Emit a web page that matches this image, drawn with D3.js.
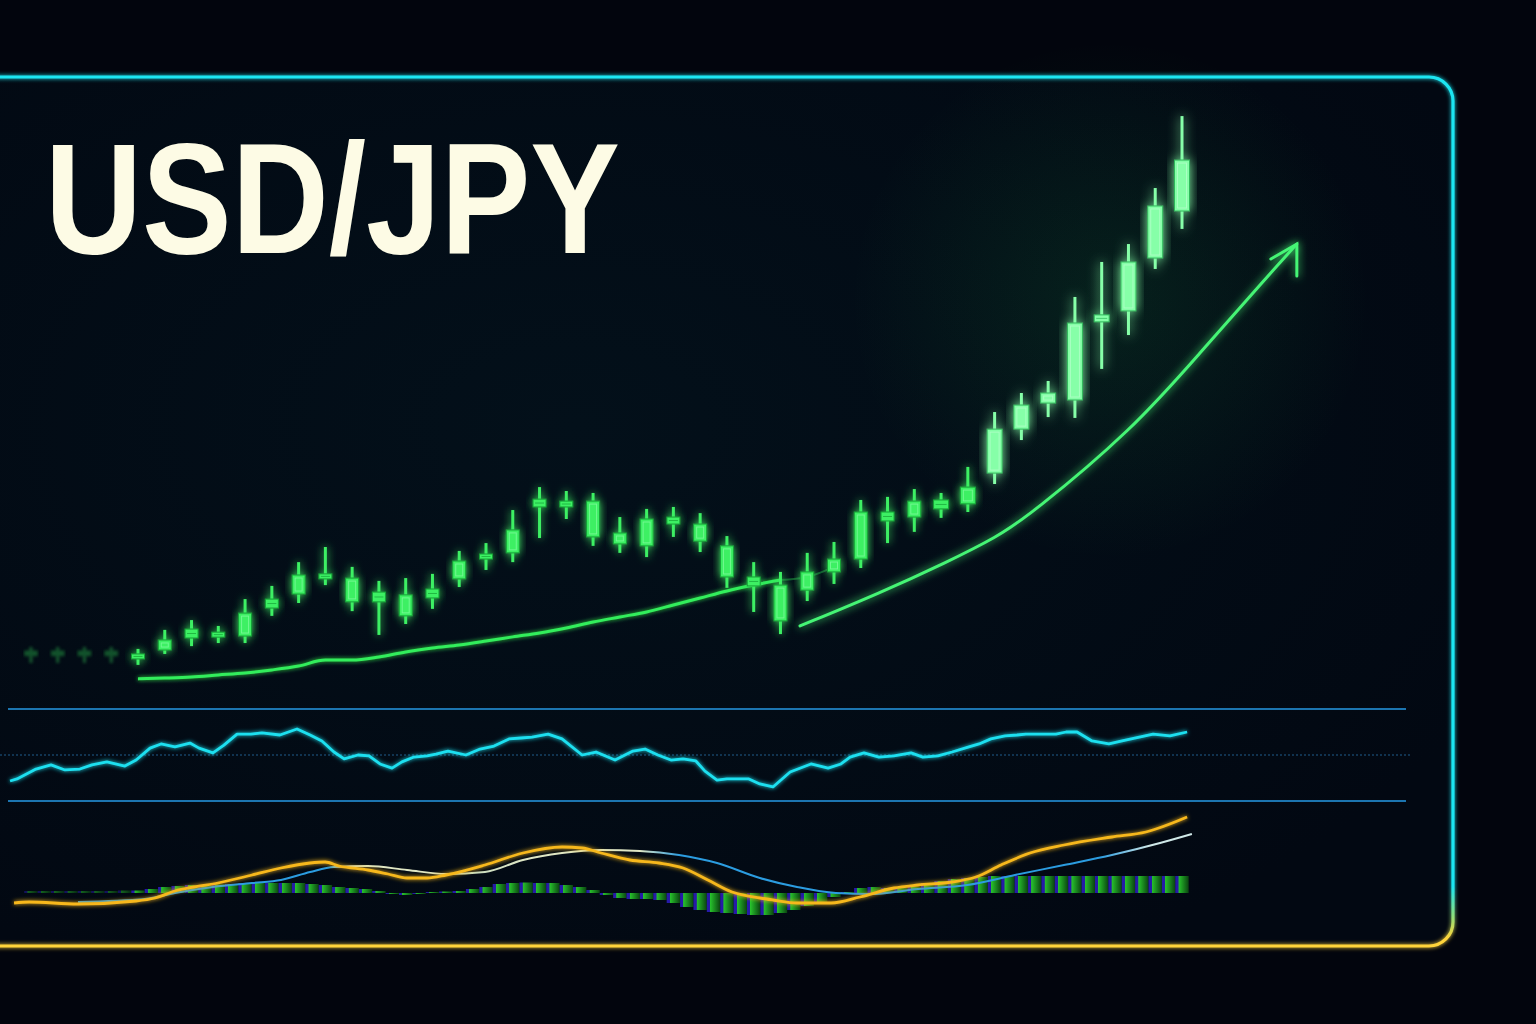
<!DOCTYPE html>
<html><head><meta charset="utf-8">
<script src="https://cdn.jsdelivr.net/npm/d3@7"></script>
<style>html,body{margin:0;padding:0;background:#02050d;overflow:hidden}</style>
</head><body>
<svg id="c" width="1536" height="1024"></svg>
<script>
// ---------------- DATA ----------------
const title = "USD/JPY";
// price candles (index 0..39)
const opens  = [140.79,141.07,141.50,141.54,141.57,142.57,143.07,143.61,143.64,143.14,142.29,142.93,143.61,144.32,144.54,146.18,146.18,146.39,145.25,144.79,145.57,145.57,144.79,143.68,143.39,143.21,143.86,144.32,145.68,145.82,146.11,146.29,147.39,148.96,149.89,150.00,152.79,153.18,155.07,156.75];
const closes = [140.93,141.43,141.82,141.71,142.39,142.89,143.75,143.79,142.79,142.79,143.04,143.25,144.25,144.50,145.36,146.46,146.39,145.11,144.86,145.75,145.82,144.96,143.68,143.36,142.11,143.86,144.32,146.00,146.00,146.39,146.43,146.89,148.96,149.82,150.25,152.75,153.04,154.93,156.93,158.57];
const highs  = [141.11,141.79,142.14,141.93,142.89,143.36,144.21,144.75,144.04,143.54,143.64,143.79,144.61,144.89,146.07,146.89,146.75,146.68,145.82,146.11,146.18,145.96,145.14,144.21,143.86,144.54,144.93,146.43,146.54,146.82,146.68,147.61,149.57,150.25,150.68,153.68,154.93,155.57,157.57,160.14];
const lows   = [140.54,140.93,141.21,141.32,141.32,142.29,142.75,143.39,142.46,141.61,142.00,142.54,143.32,143.93,144.21,145.07,145.75,144.79,144.54,144.39,145.11,144.57,143.29,142.43,141.64,142.82,143.43,144.00,144.89,145.29,145.79,146.00,147.00,148.57,149.39,149.36,151.11,152.32,154.68,156.11];
// faded earlier candles
const ghostIndex = [-4,-3,-2,-1];
const ghostOpen  = [140.89,140.89,140.89,140.89];
const ghostClose = [141.04,141.04,141.04,141.04];
const ghostHigh  = [141.18,141.18,141.18,141.18];
const ghostLow   = [140.61,140.61,140.61,140.61];
// moving average (index 0..24) + faint extension
const maValues = [140.04,140.07,140.11,140.18,140.25,140.36,140.50,140.71,140.71,140.82,141.00,141.14,141.25,141.39,141.54,141.68,141.86,142.07,142.25,142.43,142.68,142.93,143.18,143.39,143.57];
const maExtIndex = [24,25,26];
const maExtValues = [143.57,143.68,144.04];
// trend arrow (index, price)
const trendT = [24.73,27.72,30.22,32.09,33.32,37.17,39.67,42.17,43.29];
const trendV = [141.93,143.11,144.21,145.11,145.89,148.96,151.68,154.39,155.57];
// RSI
const rsiLevels = [70,50,30];
const rsiT = [-4.78,-4.52,-3.81,-3.25,-2.73,-2.17,-1.72,-1.16,-0.49,-0.07,0.45,0.86,1.38,1.94,2.28,2.80,3.21,3.70,4.22,4.63,5.30,5.94,6.43,6.87,7.32,7.70,8.22,8.63,9.04,9.49,9.86,10.31,10.80,11.13,11.58,12.25,12.78,13.30,13.86,14.31,14.72,15.32,15.84,16.59,17.11,17.82,18.49,18.94,19.42,19.91,20.36,20.84,21.18,21.63,22.00,22.82,23.23,23.72,24.36,25.14,25.78,26.26,26.60,27.12,27.68,28.24,28.88,29.32,29.88,30.41,31.04,31.42,31.86,32.39,32.84,33.17,34.29,34.67,35.08,35.64,36.27,36.76,37.92,38.55,39.19];
const rsiV = [38.7,39.6,43.9,45.7,43.5,43.9,45.7,47.0,45.2,47.8,53.0,54.8,53.5,55.2,53.0,50.9,54.3,59.1,59.1,59.6,58.7,61.3,58.7,56.1,51.3,48.3,50.0,49.6,46.1,44.3,47.0,49.1,49.6,50.4,51.7,50.0,52.6,53.9,57.0,57.4,57.8,59.1,57.0,50.0,51.3,47.8,51.7,52.6,50.0,47.8,48.3,47.4,43.0,39.1,39.6,39.6,37.4,36.1,42.6,46.1,44.3,46.1,49.1,50.9,49.1,49.6,50.9,49.1,49.6,51.3,53.5,54.8,57.0,58.3,58.7,59.1,59.1,60.0,60.0,56.1,54.8,56.1,59.1,58.3,60.0];
// MACD
const macdT = [-4.63,-4.07,-2.24,-0.07,0.64,1.38,2.09,2.99,4.26,5.34,6.43,6.99,7.51,8.59,9.34,10.05,10.80,11.51,12.96,14.38,15.84,16.59,17.30,18.38,19.46,20.36,21.29,22.19,23.23,23.72,24.62,25.89,26.97,28.24,29.14,30.41,31.30,32.24,33.32,34.59,36.38,37.65,39.19];
const macdV = [-0.20,-0.18,-0.22,-0.16,-0.10,0.04,0.12,0.20,0.36,0.50,0.60,0.62,0.54,0.46,0.38,0.30,0.30,0.36,0.56,0.80,0.92,0.90,0.80,0.66,0.60,0.50,0.26,0.02,-0.10,-0.14,-0.20,-0.20,-0.08,0.10,0.16,0.22,0.32,0.56,0.80,0.96,1.12,1.22,1.52];
const sigT = [-2.24,0.26,1.38,2.80,4.26,5.34,6.43,7.32,8.59,10.05,11.51,12.96,14.38,15.84,17.30,18.75,20.21,21.63,23.23,24.62,26.07,27.34,29.14,30.97,32.76,34.59,36.38,38.18,39.37];
const sigV = [-0.18,-0.12,0.00,0.12,0.20,0.26,0.42,0.52,0.54,0.46,0.38,0.42,0.66,0.80,0.86,0.84,0.76,0.60,0.30,0.12,0.00,-0.02,0.08,0.16,0.36,0.56,0.76,1.00,1.18];
const histT = d3.range(-4, 39.5, 0.5);
const histV = [0.04,0.04,0.04,0.04,0.04,0.04,0.04,0.05,
  0.05,0.08,0.12,0.14,0.16,0.16,0.17,0.18,0.2,0.2,
  0.2,0.2,0.2,0.18,0.16,0.12,0.1,0.08,0.04,-0.02,
  -0.04,-0.02,0.02,0.03,0.04,0.08,0.12,0.18,0.2,0.21,
  0.2,0.2,0.16,0.12,0.06,-0.04,-0.1,-0.12,-0.12,-0.14,
  -0.2,-0.28,-0.34,-0.38,-0.4,-0.42,-0.44,-0.44,-0.4,-0.34,
  -0.26,-0.18,-0.08,0.02,0.1,0.12,0.1,0.1,0.12,0.2,
  0.24,0.28,0.3,0.32,0.34,0.34,0.34,0.34,0.34,0.34,
  0.34,0.34,0.34,0.34,0.34,0.34,0.34,0.34,0.34];

// ---------------- SCALES ----------------
const svg = d3.select("#c");
const x = d3.scaleLinear().domain([0,39]).range([138,1182]);
const y = d3.scaleLinear().domain([140,160]).range([680,120]);
const rsiY = d3.scaleLinear().domain([30,70]).range([801,709]);
const macdY = d3.scaleLinear().domain([0,1]).range([893,843]);

// ---------------- DEFS ----------------
const defs = svg.append("defs");
function glow(id, sd){
  const f = defs.append("filter").attr("id",id).attr("x","-50%").attr("y","-50%").attr("width","200%").attr("height","200%");
  f.append("feGaussianBlur").attr("in","SourceGraphic").attr("stdDeviation",sd).attr("result","b");
  const m = f.append("feMerge"); m.append("feMergeNode").attr("in","b"); m.append("feMergeNode").attr("in","SourceGraphic");
}
glow("glow",4); glow("glowS",2); glow("glowL",6);
defs.append("filter").attr("id","blur").append("feGaussianBlur").attr("stdDeviation",1.6);
const fg = defs.append("linearGradient").attr("id","frameG").attr("gradientUnits","userSpaceOnUse")
  .attr("x1",0).attr("y1",77).attr("x2",0).attr("y2",947);
[[0,"#1de6f2"],[0.93,"#1de6f2"],[0.965,"#8fe07a"],[0.99,"#ffd43a"],[1,"#ffd43a"]].forEach(s=>fg.append("stop").attr("offset",s[0]).attr("stop-color",s[1]));
const hg = defs.append("linearGradient").attr("id","histG").attr("x1",0).attr("x2",1).attr("y1",0).attr("y2",0);
[[0,"#2a1cb8"],[0.22,"#2a1cb8"],[0.26,"#2bd62e"],[1,"#0b4a10"]].forEach(s=>hg.append("stop").attr("offset",s[0]).attr("stop-color",s[1]));
const sg = defs.append("linearGradient").attr("id","sigG").attr("gradientUnits","userSpaceOnUse").attr("x1",0).attr("x2",1536).attr("y1",0).attr("y2",0);
[[0,"#2b9ce0"],[330/1536,"#2b9ce0"],[345/1536,"#dfe6c4"],[440/1536,"#dfe6c4"],[470/1536,"#c8dcc0"],[530/1536,"#dfe6c4"],[640/1536,"#dfe6c4"],[680/1536,"#2b9ce0"],[1100/1536,"#2b9ce0"],[1150/1536,"#cfe8e8"],[1,"#cfe8e8"]].forEach(s=>sg.append("stop").attr("offset",s[0]).attr("stop-color",s[1]));
const rg = defs.append("radialGradient").attr("id","haze");
[[0,"rgba(40,220,90,0.10)"],[1,"rgba(40,220,90,0)"]].forEach(s=>rg.append("stop").attr("offset",s[0]).attr("stop-color",s[1]));
const bgG = defs.append("radialGradient").attr("id","bgG").attr("cx","40%").attr("cy","40%").attr("r","70%");
[[0,"#03101a"],[1,"#020812"]].forEach(s=>bgG.append("stop").attr("offset",s[0]).attr("stop-color",s[1]));

// ---------------- BACKGROUND + FRAME ----------------
svg.append("rect").attr("width",1536).attr("height",1024).attr("fill","#02050d");
const framePath = "M -10 77 H 1429 A 24 24 0 0 1 1453 101 V 922 A 24 24 0 0 1 1429 946 H -10";
svg.append("path").attr("d", framePath + " Z").attr("fill","url(#bgG)");
svg.append("ellipse").attr("cx",1110).attr("cy",300).attr("rx",260).attr("ry",260).attr("fill","url(#haze)");
svg.append("path").attr("d",framePath).attr("fill","none").attr("stroke","url(#frameG)").attr("stroke-width",3.2).attr("filter","url(#glowS)");

// ---------------- TITLE ----------------
svg.append("text").text(title).attr("x",45).attr("y",253)
  .attr("font-family","'Liberation Sans', Arial, sans-serif").attr("font-weight",700).attr("font-size",158)
  .attr("textLength",575).attr("lengthAdjust","spacingAndGlyphs")
  .attr("fill","#fdfbe5");

// ---------------- MOVING AVERAGE ----------------
const maLine = d3.line().x((d,i)=>x(i)).y(d=>y(d)).curve(d3.curveMonotoneX);
svg.append("path").attr("d",maLine(maValues)).attr("fill","none").attr("stroke","#000").attr("stroke-width",6).attr("opacity",0.6);
svg.append("path").attr("d",maLine(maValues)).attr("fill","none").attr("stroke","#33ee5c").attr("stroke-width",3).attr("filter","url(#glowS)");
svg.append("path").attr("d",d3.line().x((d,i)=>x(maExtIndex[i])).y(d=>y(d)).curve(d3.curveMonotoneX)(maExtValues))
  .attr("fill","none").attr("stroke","#33ee5c").attr("stroke-width",2).attr("opacity",0.35);

// ---------------- CANDLES ----------------
function drawCandles(g, idx, o, c, h, l, ghost){
  idx.forEach((t,k)=>{
    const cx = x(t);
    const bright = t >= 32;
    const col = bright ? "#86ffa8" : "#3cf064";
    const edge = bright ? "#2fb85a" : "#15a035";
    const w = t >= 30 ? 15 : 13;
    const top = y(Math.max(o[k],c[k])), bot = y(Math.min(o[k],c[k]));
    const bh = Math.max(bot-top, 5);
    const cg = g.append("g").attr("filter", ghost ? "url(#blur)" : (bright ? "url(#glowL)" : "url(#glow)"));
    cg.append("line").attr("x1",cx).attr("x2",cx).attr("y1",y(h[k])).attr("y2",y(l[k])).attr("stroke",col).attr("stroke-width",3);
    cg.append("rect").attr("x",cx-w/2).attr("y",top).attr("width",w).attr("height",bh).attr("fill",col).attr("stroke",edge).attr("stroke-width",1);
    if (bh > 10) cg.append("rect").attr("x",cx-w/2+3).attr("y",top+3).attr("width",w-6).attr("height",bh-6)
      .attr("fill","none").attr("stroke",bright?"#c8ffd8":"#9effb4").attr("stroke-width",1).attr("opacity",0.55);
    else cg.append("line").attr("x1",cx-w/2+2).attr("x2",cx+w/2-2).attr("y1",top+bh/2).attr("y2",top+bh/2).attr("stroke",edge).attr("stroke-width",1).attr("opacity",0.7);
  });
}
const ghostG = svg.append("g").attr("opacity",0.35);
drawCandles(ghostG, ghostIndex, ghostOpen, ghostClose, ghostHigh, ghostLow, true);
drawCandles(svg.append("g"), d3.range(opens.length), opens, closes, highs, lows, false);

// ---------------- TREND ARROW ----------------
const trendLine = d3.line().x((d,i)=>x(trendT[i])).y(d=>y(d)).curve(d3.curveBasis);
const tg = svg.append("g").attr("filter","url(#glow)");
tg.append("path").attr("d",trendLine(trendV)).attr("fill","none").attr("stroke","#45f574").attr("stroke-width",3).attr("stroke-linecap","round");
const tipX = x(trendT[trendT.length-1]), tipY = y(trendV[trendV.length-1]);
tg.append("path").attr("d",`M${tipX-26},${tipY+15} L${tipX},${tipY} L${tipX},${tipY+32}`)
  .attr("fill","none").attr("stroke","#45f574").attr("stroke-width",3).attr("stroke-linecap","round").attr("stroke-linejoin","miter");

// ---------------- RSI PANEL ----------------
rsiLevels.forEach(v=>{
  const mid = v===50;
  svg.append("line").attr("x1",mid?0:8).attr("x2",mid?1410:1406).attr("y1",rsiY(v)).attr("y2",rsiY(v))
    .attr("stroke",mid?"#1b4f78":"#1c75b0").attr("stroke-width",mid?1.5:2)
    .attr("stroke-dasharray",mid?"2,2":null).attr("opacity",mid?0.8:1);
});
const rsiLine = d3.line().x((d,i)=>x(rsiT[i])).y(d=>rsiY(d));
svg.append("path").attr("d",rsiLine(rsiV)).attr("fill","none").attr("stroke","#1fe0f0").attr("stroke-width",2.8)
  .attr("stroke-linejoin","round").attr("filter","url(#glowS)");

// ---------------- MACD PANEL ----------------
const bw = x(0.5)-x(0);
const hgG = svg.append("g");
histT.forEach((t,i)=>{
  const v = histV[i];
  const y0 = macdY(Math.max(v,0)), y1 = macdY(Math.min(v,0));
  hgG.append("rect").attr("x",x(t)-bw/2).attr("y",y0).attr("width",bw).attr("height",Math.max(y1-y0,1))
    .attr("fill","url(#histG)").attr("opacity", t<0 ? 0.45 : 0.9);
});
const macdLine = d3.line().x((d,i)=>x(macdT[i])).y(d=>macdY(d)).curve(d3.curveMonotoneX);
const sigLine = d3.line().x((d,i)=>x(sigT[i])).y(d=>macdY(d)).curve(d3.curveMonotoneX);
svg.append("path").attr("d",sigLine(sigV)).attr("fill","none").attr("stroke","url(#sigG)").attr("stroke-width",2);
svg.append("path").attr("d",macdLine(macdV)).attr("fill","none").attr("stroke","#f7b81c").attr("stroke-width",2.8).attr("filter","url(#glowS)");
</script>
</body></html>
